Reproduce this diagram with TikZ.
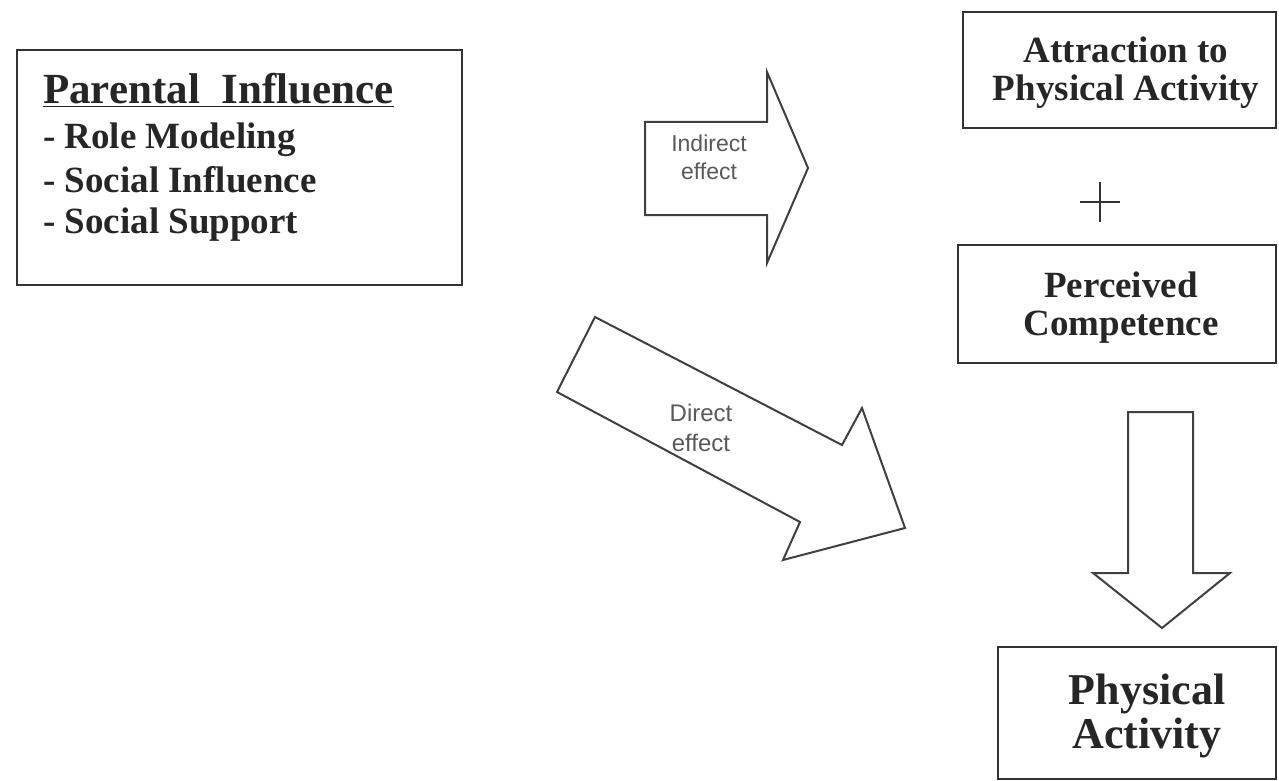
\documentclass[tikz,border=0pt]{standalone}
\usepackage{fontspec}
\setmainfont{Liberation Serif}
\newfontfamily\arialfont{Liberation Sans}
\begin{document}
\begin{tikzpicture}[x=1pt,y=-1pt,
  box/.style={draw=black!80, line width=2.4pt, rectangle, inner sep=0pt},
  blockarrow/.style={draw=black!75, line width=2pt, line join=miter, fill=white},
  serifbig/.style={font=\fontsize{37}{38}\selectfont\bfseries, text=black!85, align=center},
  listtxt/.style={font=\fontsize{37}{38}\selectfont\bfseries, text=black!85, anchor=base west, inner sep=0pt},
  smalltxt/.style={font=\arialfont\fontsize{23}{28}\selectfont, text=black!65, align=center}]
\useasboundingbox (0,0) rectangle (1279,781);

% Parental influence box
\node[box, minimum width=445pt, minimum height=235pt] (parental) at (239.5,167.5) {};
\node[listtxt, font=\fontsize{43}{44}\selectfont\bfseries] (title) at (43,104) {\underline{Parental\ \ Influence}};
\node[listtxt] (item1) at (43,148) {- Role Modeling};
\node[listtxt] (item2) at (43,192) {- Social Influence};
\node[listtxt] (item3) at (43,233) {- Social Support};

% right boxes
\node[box, minimum width=313pt, minimum height=116pt] (attraction) at (1119.5,70) {};
\node[serifbig] (attrtxt) at (1126,73) {Attraction to\\Physical Activity};
\node[inner sep=0pt] (plus) at (1100,202) {};
\draw[black!80, line width=1.6pt] ([xshift=-20pt]plus.center) -- ([xshift=20pt]plus.center);
\draw[black!80, line width=1.6pt] ([yshift=-20pt]plus.center) -- ([yshift=20pt]plus.center);
\node[box, minimum width=318pt, minimum height=118pt] (perceived) at (1117,304) {};
\node[serifbig] (perctxt) at (1121,308) {Perceived\\Competence};
\node[box, minimum width=278pt, minimum height=132pt] (physical) at (1137,713) {};
\node[serifbig, font=\fontsize{44}{44}\selectfont\bfseries] (phystxt) at (1147,716) {Physical\\Activity};

% Indirect effect arrow
\draw[blockarrow] (645,122) -- (767,122) -- (767,72) -- (808,168) -- (767,263) -- (767,215) -- (645,215) -- cycle;
\node[smalltxt] (indirect) at (709,157) {Indirect\\effect};

% Direct effect arrow
\draw[blockarrow] (595,317) -- (842,445) -- (862,408) -- (905,528) -- (783,560) -- (800,522) -- (557,392) -- cycle;
\node[smalltxt, font=\arialfont\fontsize{24}{30}\selectfont] (direct) at (701,428) {Direct\\effect};

% Down arrow
\draw[blockarrow] (1128,412) -- (1193,412) -- (1193,573) -- (1230,573) -- (1162,628) -- (1093,573) -- (1128,573) -- cycle;
\end{tikzpicture}
\end{document}
